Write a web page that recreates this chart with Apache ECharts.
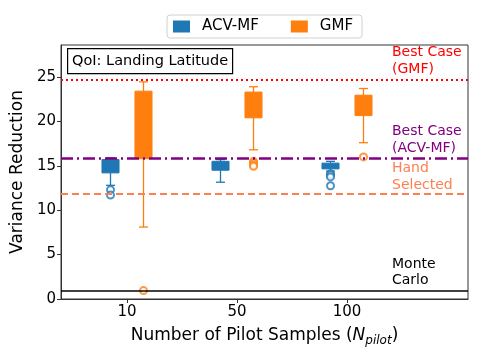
<!DOCTYPE html>
<html>
<head>
<meta charset="UTF-8">
<title>Variance Reduction</title>
<script src="https://cdn.jsdelivr.net/npm/echarts@6/dist/echarts.min.js"></script>
<style>
  html, body { margin: 0; padding: 0; background: #fff; }
  #main { width: 482px; height: 361px; }
</style>
</head>
<body>
<div id="main"></div>
<script>
// pilot sample sizes, drawn at positions 1, 2, 3
var categories = ['10', '50', '100'];
var positions = [1, 2, 3];

// boxes: [lower whisker, Q1, Q3, upper whisker]
var acvBoxes = [
  [12.8, 14.2, 15.7, 15.9],
  [13.15, 14.5, 15.5, 15.7],
  [14.4, 14.65, 15.3, 15.5]
];
var gmfBoxes = [
  [8.1, 15.8, 23.4, 24.45],
  [16.8, 20.4, 23.3, 23.9],
  [17.6, 20.65, 22.95, 23.7]
];
var acvOutliers = [[12.3, 11.7], [], [14.1, 13.95, 13.75, 12.75]];
var gmfOutliers = [[0.95], [15.5, 15.3, 15.1, 14.95], [16.0]];

// reference levels
var bestGmf = 24.65;
var bestAcv = 15.85;
var handSelected = 11.8;
var monteCarlo = 0.95;

var yTicks = [0, 5, 10, 15, 20, 25];

var blue = '#1f77b4';
var orange = '#ff7f0e';
var offset = 0.15;
var boxWidth = 0.155;

function boxData(boxes, dx) {
  return boxes.map(function (b, i) { return [positions[i] + dx].concat(b); });
}
function outlierData(outs, dx) {
  var res = [];
  outs.forEach(function (list, i) {
    list.forEach(function (v) { res.push([positions[i] + dx, v]); });
  });
  return res;
}

function renderBox(params, api) {
  var x = api.value(0);
  var lo = api.coord([x, api.value(1)]);
  var q1 = api.coord([x, api.value(2)]);
  var q3 = api.coord([x, api.value(3)]);
  var hi = api.coord([x, api.value(4)]);
  var half = api.size([boxWidth, 0])[0] / 2;
  var cap = 4.5;
  var color = api.visual('color');
  var ls = { stroke: color, lineWidth: 1.3 };
  return {
    type: 'group',
    children: [
      { type: 'line', shape: { x1: lo[0], y1: lo[1], x2: q1[0], y2: q1[1] }, style: ls },
      { type: 'line', shape: { x1: q3[0], y1: q3[1], x2: hi[0], y2: hi[1] }, style: ls },
      { type: 'line', shape: { x1: lo[0] - cap, y1: lo[1], x2: lo[0] + cap, y2: lo[1] }, style: ls },
      { type: 'line', shape: { x1: hi[0] - cap, y1: hi[1], x2: hi[0] + cap, y2: hi[1] }, style: ls },
      { type: 'rect', shape: { x: q3[0] - half, y: q3[1], width: half * 2, height: q1[1] - q3[1] },
        style: { fill: color, stroke: color, lineWidth: 1, opacity: 1 } }
    ]
  };
}

function refLine(value, color, type, width) {
  return {
    silent: true,
    symbol: 'none',
    label: { show: false },
    lineStyle: { color: color, type: type, width: width },
    data: [{ yAxis: value }]
  };
}

var chart = echarts.init(document.getElementById('main'));
chart.setOption({
  animation: false,
  textStyle: { fontFamily: 'DejaVu Sans' },
  grid: { left: 61, right: 14, top: 45, bottom: 62, show: true, borderColor: '#333', borderWidth: 1 },
  legend: {
    data: ['ACV-MF', 'GMF'],
    left: 167, top: 15,
    icon: 'rect', itemWidth: 17, itemHeight: 12, itemGap: 32,
    padding: [4, 9, 4, 6],
    borderColor: '#d0d0d0', borderWidth: 1, borderRadius: 3,
    textStyle: { fontSize: 15, color: '#000', padding: [0, 0, 0, 7] }
  },
  xAxis: {
    type: 'value', min: 0.4, max: 4.1,
    name: '{a|Number of Pilot Samples (}{i|N}{s|pilot}{a|)}',
    nameLocation: 'middle', nameGap: 26,
    nameTextStyle: {
      rich: {
        a: { fontSize: 17, color: '#000', lineHeight: 22 },
        i: { fontSize: 17, color: '#000', fontStyle: 'italic', lineHeight: 22 },
        s: { fontSize: 12, color: '#000', fontStyle: 'italic', padding: [9, 0, 0, 0], lineHeight: 22, verticalAlign: 'bottom' }
      }
    },
    splitLine: { show: false },
    axisLine: { lineStyle: { color: '#333' } },
    axisTick: { customValues: positions, length: 4, lineStyle: { color: '#333' } },
    axisLabel: {
      customValues: positions, fontSize: 15, color: '#000', margin: 6,
      formatter: function (v) { return categories[Math.round(v) - 1]; }
    }
  },
  yAxis: {
    type: 'value', min: 0, max: 28.6,
    name: 'Variance Reduction', nameLocation: 'middle', nameGap: 19,
    nameTextStyle: { fontSize: 17, color: '#000' },
    splitLine: { show: false },
    axisLine: { show: true, lineStyle: { color: '#333' } },
    axisTick: { show: true, customValues: yTicks, length: 4, lineStyle: { color: '#333' } },
    axisLabel: { customValues: yTicks, fontSize: 15, color: '#000', margin: 5 }
  },
  series: [
    {
      name: 'ACV-MF', type: 'custom', renderItem: renderBox,
      itemStyle: { color: blue },
      encode: { x: 0, y: [1, 2, 3, 4] },
      data: boxData(acvBoxes, -offset), z: 3,
      markLine: refLine(bestGmf, '#ff0000', [2, 3], 2)
    },
    {
      name: 'GMF', type: 'custom', renderItem: renderBox,
      itemStyle: { color: orange },
      encode: { x: 0, y: [1, 2, 3, 4] },
      data: boxData(gmfBoxes, offset), z: 3,
      markLine: refLine(bestAcv, '#800080', [12, 4, 2, 4], 2.5)
    },
    {
      name: 'ACV-MF', type: 'scatter', symbol: 'emptyCircle', symbolSize: 7,
      itemStyle: { color: blue, borderWidth: 1.3 },
      data: outlierData(acvOutliers, -offset), z: 4,
      markLine: refLine(handSelected, '#ff7f50', [7, 4], 2)
    },
    {
      name: 'GMF', type: 'scatter', symbol: 'emptyCircle', symbolSize: 7,
      itemStyle: { color: orange, borderWidth: 1.3 },
      data: outlierData(gmfOutliers, offset), z: 4,
      markLine: refLine(monteCarlo, '#000', 'solid', 1.5)
    }
  ],
  graphic: [
    {
      type: 'group', left: 67, top: 48,
      children: [
        { type: 'rect', shape: { x: 0, y: 0, width: 165, height: 25 }, style: { fill: '#fff', stroke: '#000', lineWidth: 1.2 } },
        { type: 'text', x: 82.5, y: 12.5, style: { text: 'QoI: Landing Latitude', font: '14.5px DejaVu Sans', fill: '#000', align: 'center', verticalAlign: 'middle' } }
      ]
    },
    { type: 'text', left: 392, top: 44, style: { text: 'Best Case\n(GMF)', font: '14px DejaVu Sans', fill: '#ff0000', lineHeight: 17 } },
    { type: 'text', left: 392, top: 123, style: { text: 'Best Case\n(ACV-MF)', font: '14px DejaVu Sans', fill: '#800080', lineHeight: 17 } },
    { type: 'text', left: 392, top: 160, style: { text: 'Hand\nSelected', font: '14px DejaVu Sans', fill: '#ff7f50', lineHeight: 17 } },
    { type: 'text', left: 392, top: 256, style: { text: 'Monte\nCarlo', font: '14px DejaVu Sans', fill: '#000', lineHeight: 16 } }
  ]
});
</script>
</body>
</html>
